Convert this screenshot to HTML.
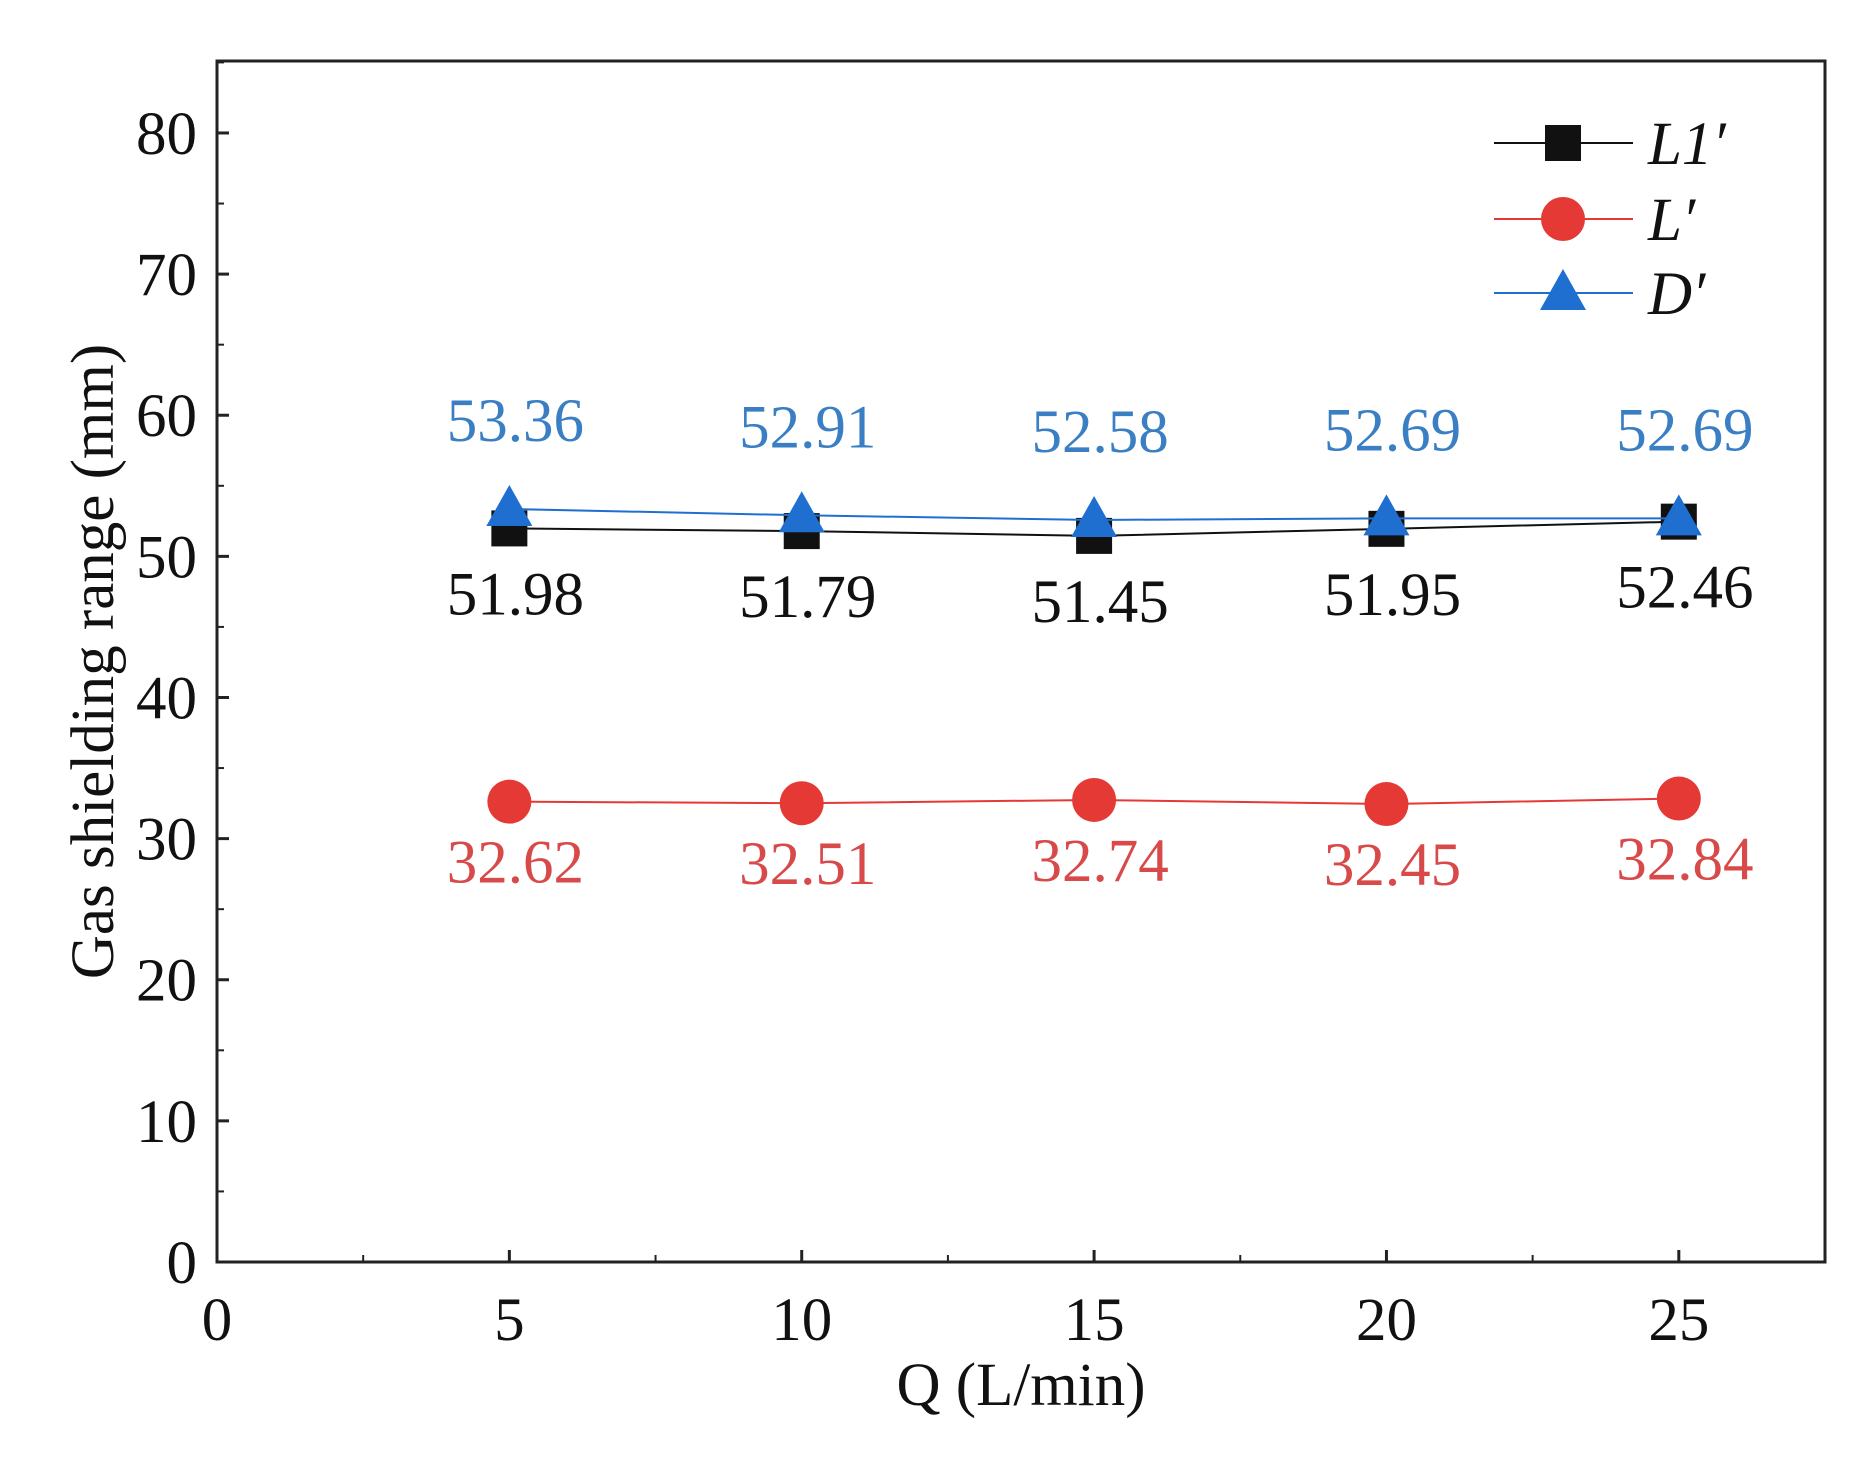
<!DOCTYPE html>
<html><head><meta charset="utf-8"><style>
html,body{margin:0;padding:0;background:#fff;}
svg{display:block;font-family:"Liberation Serif",serif;}
</style></head><body>
<svg id="chart" width="1874" height="1461" xmlns="http://www.w3.org/2000/svg"></svg>
<script>
const categories = [5, 10, 15, 20, 25];
const seriesL1 = [51.98, 51.79, 51.45, 51.95, 52.46];
const seriesL = [32.62, 32.51, 32.74, 32.45, 32.84];
const seriesD = [53.36, 52.91, 52.58, 52.69, 52.69];
const xTicks = [0, 5, 10, 15, 20, 25];
const yTicks = [0, 10, 20, 30, 40, 50, 60, 70, 80];

const NS = "http://www.w3.org/2000/svg";
const svg = document.getElementById('chart');
const L = 217, R = 1825, T = 61, B = 1262;
const xMax = 27.5, yMax = 85.1;
const FS = 61;
const xs = v => L + v / xMax * (R - L);
const ys = v => B - v / yMax * (B - T);
function mk(tag, attrs, parent) {
  const e = document.createElementNS(NS, tag);
  for (const k in attrs) e.setAttribute(k, attrs[k]);
  (parent || svg).appendChild(e);
  return e;
}
function txt(x, y, s, size, fill, anchor, extra) {
  const e = mk('text', Object.assign({x: x, y: y, 'font-size': size, fill: fill, 'text-anchor': anchor || 'middle'}, extra || {}));
  e.textContent = s;
  return e;
}

const frame = mk('rect', {x: L, y: T, width: R - L, height: B - T, fill: 'none', stroke: '#222', 'stroke-width': 3});



xTicks.forEach(v => {
  const t = mk('line', {x1: xs(v), x2: xs(v), y1: B, y2: B - 12, stroke: '#222', 'stroke-width': 3});
  
  
  const lb = txt(xs(v), B + 78, String(v), FS, '#111');
  
  
  const m = mk('line', {x1: xs(v + 2.5), x2: xs(v + 2.5), y1: B, y2: B - 7, stroke: '#222', 'stroke-width': 2});
  
  
});
yTicks.forEach(v => {
  const t = mk('line', {x1: L, x2: L + 12, y1: ys(v), y2: ys(v), stroke: '#222', 'stroke-width': 3});
  
  
  const lb = txt(L - 20, ys(v) + 21, String(v), FS, '#111', 'end');
  
  
  if (v + 5 < yMax) {
    const m = mk('line', {x1: L, x2: L + 7, y1: ys(v + 5), y2: ys(v + 5), stroke: '#222', 'stroke-width': 2});
    
    
  }
});

const xt = txt((L + R) / 2, 1405, 'Q (L/min)', FS, '#111');


const yt = txt(0, 0, 'Gas shielding range (mm)', FS, '#111', 'middle', {transform: 'translate(113,' + (T + B) / 2 + ') rotate(-90)'});



function marker(type, x, y, color, name) {
  let e;
  if (type === 'square') e = mk('rect', {x: x - 18, y: y - 18, width: 36, height: 36, fill: color});
  else if (type === 'circle') e = mk('circle', {cx: x, cy: y, r: 22, fill: color});
  else e = mk('polygon', {points: (x) + ',' + (y - 24) + ' ' + (x - 23) + ',' + (y + 17) + ' ' + (x + 23) + ',' + (y + 17), fill: color});
  
  
}
function series(vals, color, type, name, labelColor, dy) {
  const line = mk('polyline', {points: vals.map((v, i) => xs(categories[i]) + ',' + ys(v)).join(' '), fill: 'none', stroke: color, 'stroke-width': 2});
  
  
  vals.forEach((v, i) => marker(type, xs(categories[i]), ys(v), color, name + '-point'));
  vals.forEach((v, i) => {
    const lb = txt(xs(categories[i]) + 6, ys(v) + dy, v.toFixed(2), FS, labelColor);
    
    
  });
}
series(seriesL1, '#111', 'square', 'l1', '#111', 86);
series(seriesL, '#e53935', 'circle', 'l', '#d84a4a', 81);
series(seriesD, '#1f6fd0', 'triangle', 'd', '#3a7fc4', -68);

const leg = [['L1′', '#111', 'square', 143], ['L′', '#e53935', 'circle', 219], ['D′', '#1f6fd0', 'triangle', 293]];
leg.forEach(l => {
  const g = mk('line', {x1: 1494, x2: 1633, y1: l[3], y2: l[3], stroke: l[1], 'stroke-width': 2});
  
  
  marker(l[2], 1563, l[3], l[1], 'legend-marker');
  const t = txt(1648, l[3] + 21, l[0], FS, '#111', 'start', {'font-style': 'italic'});
  
  
});
</script>
</body></html>
